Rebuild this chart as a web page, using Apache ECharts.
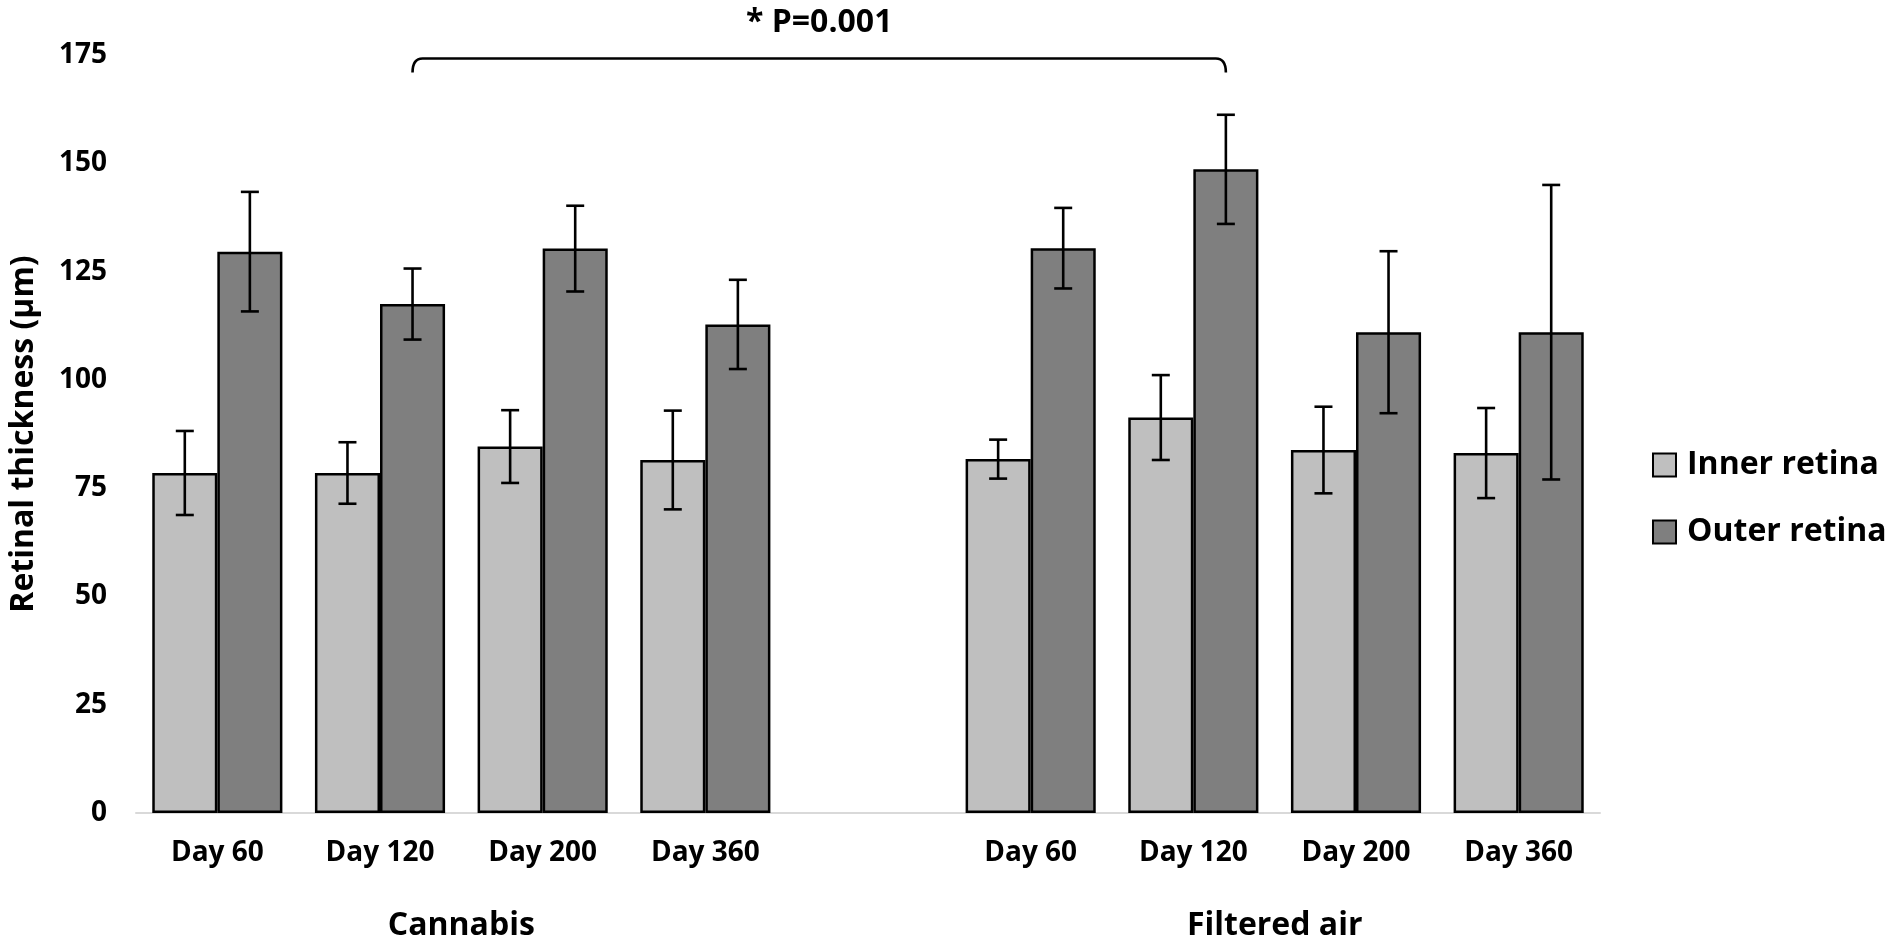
<!DOCTYPE html>
<html>
<head>
<meta charset="utf-8">
<script src="https://cdn.jsdelivr.net/npm/echarts@6/dist/echarts.min.js"></script>
<style>
html,body{margin:0;padding:0;background:#fff;}
#chart{width:1895px;height:949px;}
</style>
</head>
<body>
<div id="chart"></div>
<script>
// ---- data ----
const categories = ['Day 60', 'Day 120', 'Day 200', 'Day 360', '', 'Day 60', 'Day 120', 'Day 200', 'Day 360'];
const seriesNames = ['Inner retina', 'Outer retina'];
const innerMean = [78.5, 78.5, 84.6, 81.5, null, 81.7, 91.3, 83.8, 83.1];
const innerErr  = [9.7, 7.1, 8.4, 11.4, null, 4.5, 9.8, 10.0, 10.4];
const outerMean = [129.6, 117.5, 130.3, 112.8, null, 130.4, 148.6, 111.0, 111.0];
const outerErr  = [13.8, 8.2, 9.9, 10.3, null, 9.3, 12.6, 18.7, 34.0];
const groupNames = ['Cannabis', 'Filtered air'];
const groupStart = [0, 5];
const groupEnd = [3, 8];
const yMin = 0, yMax = 175, yStep = 25;
const yAxisTitle = 'Retinal thickness (\u03bcm)';
const bracketFrom = 1, bracketTo = 6, bracketValue = 174.2;
const bracketLabel = '* P=0.001';

const FONT = 'Open Sans';
const BAR_GAP_FRAC = 0.2; // barCategoryGap 20%, two bars each 40% of band

function errData(mean, err) {
  const out = [];
  mean.forEach((m, i) => { if (m != null) out.push([i, m - err[i], m + err[i]]); });
  return out;
}

function errRender(offsetFrac) {
  return function (params, api) {
    const i = api.value(0);
    const band = api.size([1, 0])[0];
    const x = api.coord([i, 0])[0] + offsetFrac * band;
    const yLo = api.coord([i, api.value(1)])[1];
    const yHi = api.coord([i, api.value(2)])[1];
    const cap = 9;
    const st = { stroke: '#000', lineWidth: 2.6 };
    return {
      type: 'group',
      children: [
        { type: 'line', shape: { x1: x, y1: yLo, x2: x, y2: yHi }, style: st },
        { type: 'line', shape: { x1: x - cap, y1: yHi, x2: x + cap, y2: yHi }, style: st },
        { type: 'line', shape: { x1: x - cap, y1: yLo, x2: x + cap, y2: yLo }, style: st }
      ]
    };
  };
}

const chart = echarts.init(document.getElementById('chart'));
chart.setOption({
  backgroundColor: '#fff',
  animation: false,
  textStyle: { fontFamily: FONT },
  grid: { left: 134, right: 295, top: 55, bottom: 136 },
  legend: {
    data: seriesNames,
    orient: 'vertical',
    left: 1647,
    top: 444,
    itemWidth: 23,
    itemHeight: 23,
    itemGap: 35,
    icon: 'rect',
    textStyle: { fontFamily: FONT, fontWeight: 'bold', fontSize: 32, color: '#000', padding: [0, 0, 0, 6] }
  },
  xAxis: {
    type: 'category',
    data: categories,
    axisTick: { show: false },
    axisLine: { lineStyle: { color: '#d9d9d9', width: 2 } },
    axisLabel: { interval: 0, margin: 26, fontFamily: FONT, fontWeight: 'bold', fontSize: 28, color: '#000' }
  },
  yAxis: {
    type: 'value',
    min: yMin, max: yMax, interval: yStep,
    splitLine: { show: false },
    axisLine: { show: false },
    axisTick: { show: false },
    axisLabel: { margin: 29, fontFamily: FONT, fontWeight: 'bold', fontSize: 28, color: '#000' },
    name: yAxisTitle,
    nameLocation: 'middle',
    nameGap: 96,
    nameTextStyle: { fontFamily: FONT, fontWeight: 'bold', fontSize: 32, color: '#000' }
  },
  series: [
    {
      name: seriesNames[0], type: 'bar', data: innerMean,
      barGap: 0, barCategoryGap: '20%',
      itemStyle: { color: '#bfbfbf', borderColor: '#000', borderWidth: 2.5 }
    },
    {
      name: seriesNames[1], type: 'bar', data: outerMean,
      barGap: 0, barCategoryGap: '20%',
      itemStyle: { color: '#7f7f7f', borderColor: '#000', borderWidth: 2.5 }
    },
    {
      name: 'innerErr', type: 'custom', z: 5,
      data: errData(innerMean, innerErr),
      renderItem: errRender(-BAR_GAP_FRAC)
    },
    {
      name: 'outerErr', type: 'custom', z: 5,
      data: errData(outerMean, outerErr),
      renderItem: errRender(BAR_GAP_FRAC)
    },
    {
      name: 'bracket', type: 'custom', z: 5,
      data: [[bracketFrom, bracketTo, bracketValue]],
      renderItem: function (params, api) {
        const band = api.size([1, 0])[0];
        const x1 = api.coord([api.value(0), 0])[0] + BAR_GAP_FRAC * band;
        const x2 = api.coord([api.value(1), 0])[0] + BAR_GAP_FRAC * band;
        const y = api.coord([0, api.value(2)])[1];
        const drop = 14, r = 10;
        const p = 'M' + x1 + ' ' + (y + drop) + ' Q' + x1 + ' ' + y + ' ' + (x1 + r) + ' ' + y +
          ' L' + (x2 - r) + ' ' + y + ' Q' + x2 + ' ' + y + ' ' + x2 + ' ' + (y + drop);
        return {
          type: 'group',
          children: [
            { type: 'path', shape: { pathData: p }, style: { stroke: '#000', lineWidth: 2.6, fill: null } },
            { type: 'text', style: { text: bracketLabel, x: (x1 + x2) / 2, y: y - 36, align: 'center', verticalAlign: 'middle',
              fontFamily: FONT, fontWeight: 'bold', fontSize: 32, fill: '#000' } }
          ]
        };
      }
    },
    {
      name: 'groups', type: 'custom', z: 5,
      data: groupNames.map((g, k) => [groupStart[k], groupEnd[k]]),
      renderItem: function (params, api) {
        const xa = api.coord([api.value(0), 0]);
        const xb = api.coord([api.value(1), 0]);
        return {
          type: 'text',
          style: { text: groupNames[params.dataIndex], x: (xa[0] + xb[0]) / 2, y: xa[1] + 113,
            align: 'center', verticalAlign: 'middle', fontFamily: FONT, fontWeight: 'bold', fontSize: 32, fill: '#000' }
        };
      }
    }
  ]
});
</script>
</body>
</html>
